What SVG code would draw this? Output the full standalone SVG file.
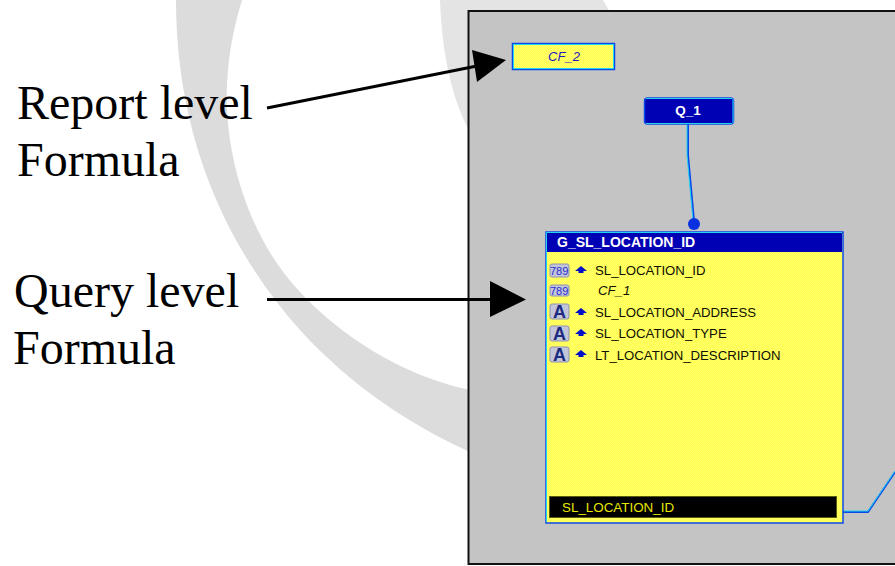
<svg xmlns="http://www.w3.org/2000/svg" width="895" height="566" viewBox="0 0 895 566">
<style>
.lbl{font-family:"Liberation Serif","Times New Roman",serif;font-size:48px;fill:#000}
.sm{font-family:"Liberation Sans",Arial,sans-serif;font-size:13.200px;fill:#101000}
.ptr{stroke:#000;fill:none;stroke-linecap:butt}
.wire{fill:none;stroke:#0a48e8;stroke-width:2}
.wire2{fill:none;stroke:#22d4f0;stroke-width:1}
.ico{fill:#c2c6d8;stroke:#8e92b0;stroke-width:1}
.num{font-family:"Liberation Sans",Arial,sans-serif;font-size:11px;fill:#2a2ad0}
.alpha{font-family:"Liberation Sans",Arial,sans-serif;font-size:18px;font-weight:bold;fill:#1c2a80}
.up{fill:#0010c8}
</style>
<defs>
<pattern id="dith" width="2" height="2" patternUnits="userSpaceOnUse"><rect width="2" height="2" fill="#ffff4a"/><rect width="1" height="1" fill="#ffff70"/><rect x="1" y="1" width="1" height="1" fill="#ffff70"/></pattern>
</defs>
<rect width="895" height="566" fill="#fff"/>
<g id="background">
<path d="M176 0C176 120 215 235 300 330C350 385 410 425 470 452V390C400 375 340 335 300 292C250 240 220 150 228 70C230 45 236 20 242 0Z" fill="#dcdcdc"/>
<path d="M440 0C442 55 452 100 470 132L610 12L603 0Z" fill="#e4e4e4"/>
</g>
<g id="panel"><rect x="468.500" y="11" width="440" height="553" fill="#c4c4c4" stroke="#111" stroke-width="2"/></g>
<g id="connectors">
<path class="wire" d="M688 124V155L694 221"/><path class="wire2" d="M687 124V155L693 221"/>
<path class="wire" d="M843 512H868L895 472"/><path class="wire2" d="M843 511H868L895 471"/>
<circle cx="694" cy="224" r="6" fill="#0a30e0"/>
</g>
<g id="cf2">
<rect x="512.500" y="43.500" width="102" height="26" fill="url(#dith)" stroke="#0a48e8" stroke-width="1.500"/>
<rect x="513.500" y="44.500" width="100" height="24" fill="none" stroke="#22d4f0"/>
<text x="564" y="61" text-anchor="middle" font-family="Liberation Sans,Arial,sans-serif" font-size="13" font-style="italic" fill="#2020c0">CF_2</text>
</g>
<g id="q1">
<rect x="644.500" y="98" width="89" height="26" rx="3" fill="#0000b4" stroke="#0a48e8" stroke-width="1.500"/>
<path d="M646 98.500H732M733 99V123M646 123.500H732" fill="none" stroke="#22d4f0"/>
<text x="688" y="115" text-anchor="middle" font-family="Liberation Sans,Arial,sans-serif" font-size="13.500" font-weight="bold" fill="#fff">Q_1</text>
</g>
<g id="g_sl_location_id">
<rect x="546" y="232" width="297" height="291" fill="url(#dith)" stroke="#0a48e8" stroke-width="1.500"/>
<path d="M546.500 522V232.500H842" fill="none" stroke="#22d4f0"/>
<rect x="547" y="233" width="295" height="19" fill="#0000b4"/>
<text x="557" y="247" font-family="Liberation Sans,Arial,sans-serif" font-size="14" font-weight="bold" fill="#fff">G_SL_LOCATION_ID</text>
<g>
<rect class="ico" x="550" y="264" width="19" height="13" rx="2"/><text class="num" x="550" y="275">789</text>
<rect class="ico" x="550" y="285" width="19" height="11" rx="2"/><text class="num" x="550" y="295">789</text>
<rect class="ico" x="550" y="304" width="19" height="15" rx="2"/><text class="alpha" x="553" y="318">A</text>
<rect class="ico" x="550" y="326" width="19" height="15" rx="2"/><text class="alpha" x="553" y="340">A</text>
<rect class="ico" x="550" y="347" width="19" height="15" rx="2"/><text class="alpha" x="553" y="361">A</text>
<path class="up" d="M581 266l-6 5h3.500v2h5v-2h3.500z"/>
<path class="up" d="M581 308l-6 5h3.500v2h5v-2h3.500z"/>
<path class="up" d="M581 329l-6 5h3.500v2h5v-2h3.500z"/>
<path class="up" d="M581 350l-6 5h3.500v2h5v-2h3.500z"/>
</g>
<text class="sm" x="595" y="275">SL_LOCATION_ID</text>
<text class="sm" x="598" y="295" font-style="italic">CF_1</text>
<text class="sm" x="595" y="317">SL_LOCATION_ADDRESS</text>
<text class="sm" x="595" y="338">SL_LOCATION_TYPE</text>
<text class="sm" x="595" y="360">LT_LOCATION_DESCRIPTION</text>
<rect x="549.500" y="496.500" width="287" height="21" fill="#000" stroke="#5a5a10"/>
<text x="562" y="512" font-family="Liberation Sans,Arial,sans-serif" font-size="13.400" fill="#e8e800">SL_LOCATION_ID</text>
</g>
<g id="annotations">
<text class="lbl" x="17" y="119">Report level</text>
<text class="lbl" x="17" y="176">Formula</text>
<text class="lbl" x="14" y="307">Query level</text>
<text class="lbl" x="13" y="364">Formula</text>
<path class="ptr" stroke-width="3" d="M267 108L482 65"/>
<path d="M472 50L506 60L477 82Z" fill="#000"/>
<path class="ptr" stroke-width="3" d="M267 299.500H492"/>
<path d="M490 281L526 299.500L490 317Z" fill="#000"/>
</g>
</svg>
